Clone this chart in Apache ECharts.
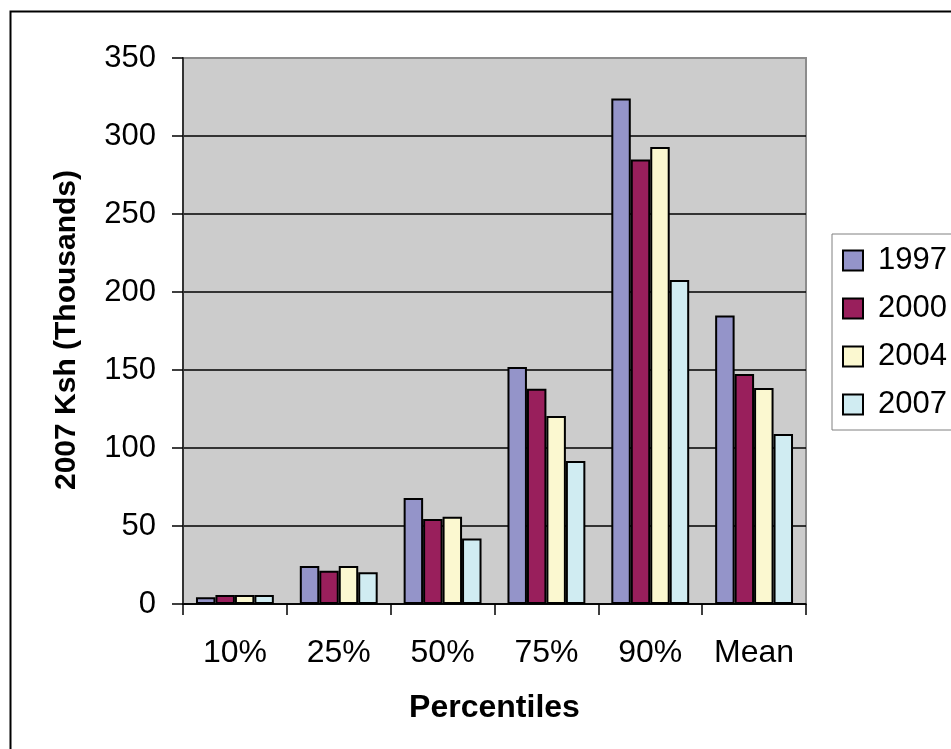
<!DOCTYPE html>
<html>
<head>
<meta charset="utf-8">
<script src="https://cdn.jsdelivr.net/npm/echarts@6/dist/echarts.min.js"></script>
<style>
  html, body { margin: 0; padding: 0; background: #fff; }
  #chart { width: 951px; height: 749px; }
</style>
</head>
<body>
<div id="chart"></div>
<script>
// Household income by percentile, four survey years (2007 Ksh, thousands)
const categories = ['10%', '25%', '50%', '75%', '90%', 'Mean'];
const years = ['1997', '2000', '2004', '2007'];
const values1997 = [4.3, 24.4, 68, 152, 324, 185];
const values2000 = [5.8, 21.3, 54.5, 138, 285, 147.5];
const values2004 = [5.8, 24.4, 56, 120.5, 293, 138.5];
const values2007 = [5.8, 20.3, 42, 91.7, 207.7, 109];
const yTicks = [0, 50, 100, 150, 200, 250, 300, 350];

const seriesValues = [values1997, values2000, values2004, values2007];
const colors = ['#9494C9', '#991F5C', '#FBF8D0', '#D0ECF2'];
const FONT = 'Liberation Sans, Arial, sans-serif';

const chart = echarts.init(document.getElementById('chart'), null, { renderer: 'canvas' });

chart.setOption({
  backgroundColor: '#ffffff',
  animation: false,
  color: colors,
  graphic: [{
    type: 'rect',
    shape: { x: 10.5, y: 11.5, width: 980, height: 780 },
    style: { fill: null, stroke: '#000', lineWidth: 2 },
    silent: true,
    z: -10
  }, {
    type: 'text',
    x: 67, y: 330,
    rotation: Math.PI / 2,
    style: {
      text: '2007 Ksh (Thousands)',
      font: 'bold 30px ' + FONT,
      fill: '#000',
      align: 'center',
      verticalAlign: 'middle'
    }
  }],
  grid: {
    left: 183, right: 145, top: 58, bottom: 145,
    show: true,
    backgroundColor: '#CCCCCC',
    borderColor: '#8C8C8C',
    borderWidth: 2
  },
  legend: {
    data: years,
    orient: 'vertical',
    left: 832, top: 234,
    padding: [11, 20, 10, 10],
    itemGap: 17,
    itemWidth: 20, itemHeight: 20,
    borderColor: '#808080', borderWidth: 1,
    backgroundColor: '#fff',
    textStyle: { fontSize: 31, fontFamily: FONT, color: '#000', padding: [0, 0, 0, 10] },
    itemStyle: { borderColor: '#000', borderWidth: 2 },
    icon: 'rect'
  },
  xAxis: {
    type: 'category',
    data: categories,
    name: 'Percentiles',
    nameLocation: 'middle',
    nameGap: 88,
    nameMoveOverlap: false,
    nameTextStyle: { fontSize: 32, fontWeight: 'bold', fontFamily: FONT, color: '#000' },
    axisLine: { lineStyle: { color: '#000', width: 1.5 } },
    axisTick: { show: true, interval: 0, length: 11, lineStyle: { color: '#000', width: 1.5 } },
    axisLabel: { interval: 0, hideOverlap: false, fontSize: 32, fontFamily: FONT, color: '#000', margin: 33 },
    splitLine: { show: false }
  },
  yAxis: {
    type: 'value',
    min: yTicks[0],
    max: yTicks[yTicks.length - 1],
    interval: 50,
    axisLine: { show: true, lineStyle: { color: '#333', width: 2 } },
    axisTick: { show: true, length: 11, lineStyle: { color: '#000', width: 1.5 } },
    axisLabel: { fontSize: 31, fontFamily: FONT, color: '#000', margin: 27 },
    splitLine: {
      show: true,
      lineStyle: {
        color: ['#000', '#000', '#000', '#000', '#000', '#000', '#000', '#8C8C8C'],
        width: 1.5
      }
    }
  },
  series: years.map((y, i) => ({
    name: y,
    type: 'bar',
    data: seriesValues[i],
    barGap: '0%',
    barCategoryGap: '25%',
    itemStyle: { color: colors[i], borderColor: '#000', borderWidth: 2 }
  }))
});
</script>
</body>
</html>
